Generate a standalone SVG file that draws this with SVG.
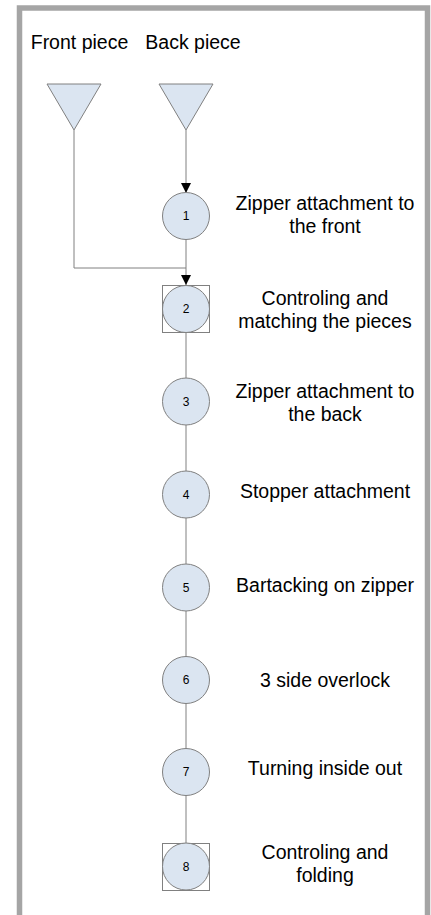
<svg xmlns="http://www.w3.org/2000/svg" width="431" height="915" viewBox="0 0 431 915">
<style>
.frame{fill:#fff;stroke:#a5a5a5;stroke-width:5.5}
.shape{fill:#dbe5f1;stroke:#808080;stroke-width:1}
.box{fill:none;stroke:#808080;stroke-width:1}
.conn{fill:none;stroke:#808080;stroke-width:1}
.lbl{font-family:"Liberation Sans",Arial,sans-serif;font-size:19.5px;fill:#000;text-anchor:middle}
.num{font-family:"Liberation Sans",Arial,sans-serif;font-size:12px;fill:#000;text-anchor:middle}
</style>
<defs>
<marker id="arr" viewBox="0 0 10 10" refX="10" refY="5" markerWidth="10" markerHeight="10" markerUnits="userSpaceOnUse" orient="auto">
<path d="M0,0 L10,5 L0,10 z" fill="#000"/>
</marker>
</defs>
<rect class="frame" x="19.5" y="8" width="408" height="940"/>
<g id="header-front"><text class="lbl" x="79.5" y="49">Front piece</text></g>
<g id="header-back"><text class="lbl" x="193" y="49">Back piece</text></g>
<g id="connectors">
<line class="conn" x1="186" y1="130" x2="186" y2="193" marker-end="url(#arr)"/>
<polyline class="conn" points="74,130 74,268 186,268"/>
<line class="conn" x1="186" y1="239" x2="186" y2="285" marker-end="url(#arr)"/>
<line class="conn" x1="186" y1="332" x2="186" y2="378"/>
<line class="conn" x1="186" y1="425" x2="186" y2="471"/>
<line class="conn" x1="186" y1="518" x2="186" y2="564"/>
<line class="conn" x1="186" y1="611" x2="186" y2="657"/>
<line class="conn" x1="186" y1="703" x2="186" y2="749"/>
<line class="conn" x1="186" y1="795" x2="186" y2="843"/>
</g>
<g id="front-piece"><polygon class="shape" points="47,84 101,84 74,130"/></g>
<g id="back-piece"><polygon class="shape" points="159,84 213,84 186,130"/></g>
<g id="op1"><circle class="shape" cx="186" cy="216" r="23.5"/><text class="num" x="186" y="220">1</text>
<text class="lbl" x="325" y="210">Zipper attachment to</text><text class="lbl" x="325" y="233">the front</text></g>
<g id="op2"><rect class="box" x="162.5" y="285.5" width="47" height="47"/><circle class="shape" cx="186" cy="309" r="23.5"/><text class="num" x="186" y="313">2</text>
<text class="lbl" x="325" y="305">Controling and</text><text class="lbl" x="325" y="328">matching the pieces</text></g>
<g id="op3"><circle class="shape" cx="186" cy="401.5" r="23.5"/><text class="num" x="186" y="405.5">3</text>
<text class="lbl" x="325" y="398">Zipper attachment to</text><text class="lbl" x="325" y="421">the back</text></g>
<g id="op4"><circle class="shape" cx="186" cy="494.5" r="23.5"/><text class="num" x="186" y="498.5">4</text>
<text class="lbl" x="325" y="498">Stopper attachment</text></g>
<g id="op5"><circle class="shape" cx="186" cy="587.5" r="23.5"/><text class="num" x="186" y="591.5">5</text>
<text class="lbl" x="325" y="592">Bartacking on zipper</text></g>
<g id="op6"><circle class="shape" cx="186" cy="680" r="23.5"/><text class="num" x="186" y="684">6</text>
<text class="lbl" x="325" y="687">3 side overlock</text></g>
<g id="op7"><circle class="shape" cx="186" cy="772" r="23.5"/><text class="num" x="186" y="776">7</text>
<text class="lbl" x="325" y="775">Turning inside out</text></g>
<g id="op8"><rect class="box" x="162.5" y="843.5" width="47" height="47"/><circle class="shape" cx="186" cy="866.5" r="23.5"/><text class="num" x="186" y="870.5">8</text>
<text class="lbl" x="325" y="859">Controling and</text><text class="lbl" x="325" y="882">folding</text></g>
</svg>
